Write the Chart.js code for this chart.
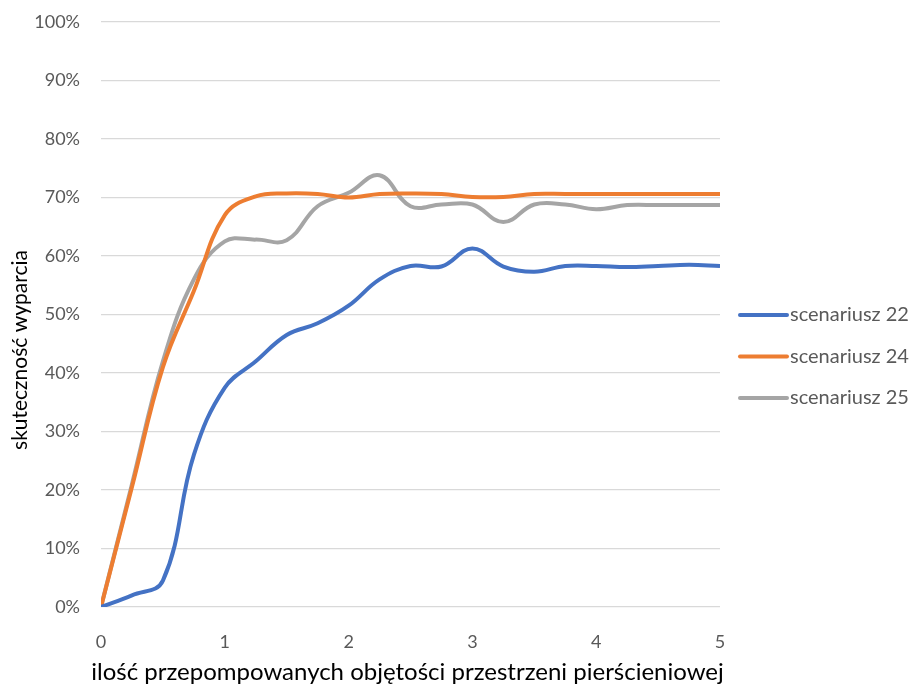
<!DOCTYPE html>
<html>
<head>
<meta charset="utf-8">
<script src="https://cdn.jsdelivr.net/npm/chart.js@4/dist/chart.umd.min.js"></script>
<style>
  html, body { margin: 0; padding: 0; background: #fff; }
  #wrap { width: 912px; height: 688px; }
</style>
</head>
<body>
<div id="wrap"><canvas id="chart" width="912" height="688"></canvas></div>
<script>
// dane
let xValues = [0, 0.25, 0.5, 0.75, 1, 1.25, 1.5, 1.75, 2, 2.25, 2.5, 2.75, 3, 3.25, 3.5, 3.75, 4, 4.25, 4.5, 4.75, 5];
let scen22 = [0, 2, 4.5, 26, 37.5, 42, 46.5, 48.5, 51.5, 56, 58.3, 58.2, 61.3, 58.2, 57.3, 58.3, 58.3, 58.1, 58.3, 58.5, 58.3];
let scen24 = [0, 20.5, 41, 54, 67, 70.2, 70.7, 70.6, 70, 70.6, 70.7, 70.6, 70.1, 70.1, 70.6, 70.6, 70.6, 70.6, 70.6, 70.6, 70.6];
let scen25 = [0, 21, 42, 56, 62.5, 62.8, 62.7, 68.5, 70.8, 73.8, 68.5, 68.8, 68.8, 65.8, 68.8, 68.8, 68, 68.7, 68.7, 68.7, 68.7];
let seriesNames = ['scenariusz 22', 'scenariusz 24', 'scenariusz 25'];
let seriesColors = ['#4472c4', '#ed7d31', '#a5a5a5'];
let xTitle = 'ilość przepompowanych objętości przestrzeni pierścieniowej';
let yTitle = 'skuteczność wyparcia';

function toPoints(values) {
    return values.map((v, i) => ({ x: xValues[i], y: v / 100 }));
}

let allSeries = [scen22, scen24, scen25];
let datasets = allSeries.map((vals, i) => ({
    label: seriesNames[i],
    data: toPoints(vals),
    borderColor: seriesColors[i],
    backgroundColor: seriesColors[i],
    borderWidth: 4,
    pointRadius: 0,
    tension: 0.4,
    fill: false
}));

// tytuły osi i legenda rysowane recznie (pozycje jak w Excelu)
let textPlugin = {
    id: 'textPlugin',
    afterDraw(chart) {
        let c = chart.ctx;
        let area = chart.chartArea;
        c.save();
        c.fillStyle = '#000';
        c.textAlign = 'center';
        c.textBaseline = 'middle';

        c.font = '24px Lato';
        c.fillText(xTitle, (area.left + area.right) / 2 - 3, 672);

        c.save();
        c.translate(20, 350);
        c.rotate(-Math.PI / 2);
        c.font = '21px Lato';
        c.fillText(yTitle, 0, 0);
        c.restore();

        // legenda
        c.font = '20px Lato';
        c.textAlign = 'left';
        c.fillStyle = '#595959';
        chart.data.datasets.forEach((ds, i) => {
            let y = 315 + i * 41.5;
            c.strokeStyle = ds.borderColor;
            c.lineWidth = 4;
            c.lineCap = 'round';
            c.beginPath();
            c.moveTo(740, y);
            c.lineTo(787, y);
            c.stroke();
            c.fillText(ds.label, 790, y);
        });
        c.restore();
    }
};

let ctx = document.getElementById('chart').getContext('2d');
let chart = new Chart(ctx, {
    type: 'line',
    data: { datasets: datasets },
    plugins: [textPlugin],
    options: {
        responsive: false,
        animation: false,
        layout: { padding: { top: 22, right: 192, left: 0, bottom: 0 } },
        plugins: {
            legend: { display: false },
            tooltip: { enabled: false }
        },
        scales: {
            x: {
                type: 'linear',
                min: 0,
                max: 5,
                afterFit: s => { s.height = 81; },
                ticks: {
                    stepSize: 1,
                    color: '#595959',
                    font: { family: 'Lato', size: 18 },
                    padding: 16
                },
                grid: { display: false },
                border: { display: false }
            },
            y: {
                min: 0,
                max: 1,
                afterFit: s => { s.width = 101; s.paddingTop = 0; s.paddingBottom = 0; },
                ticks: {
                    stepSize: 0.1,
                    color: '#595959',
                    font: { family: 'Lato', size: 18 },
                    padding: 21,
                    callback: v => Math.round(v * 100) + '%'
                },
                grid: { color: '#d9d9d9', lineWidth: 1.3, drawTicks: false },
                border: { display: false }
            }
        }
    }
});
</script>
</body>
</html>
